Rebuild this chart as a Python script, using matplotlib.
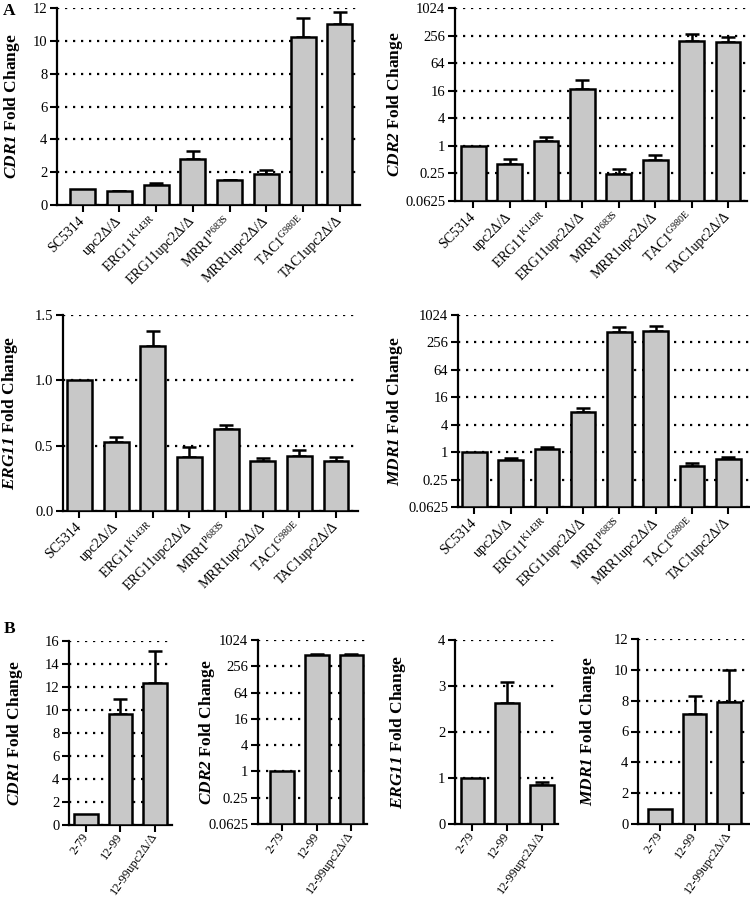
import numpy as np
import matplotlib
matplotlib.use("Agg")
import matplotlib.pyplot as plt

plt.rcParams['font.family'] = ['Liberation Serif', 'DejaVu Serif']
plt.rcParams['mathtext.fontset'] = 'custom'
# gene names in the y labels are bold italic (digits too), superscripts plain
plt.rcParams['mathtext.rm'] = 'Liberation Serif:italic:bold'
plt.rcParams['mathtext.it'] = 'Liberation Serif:italic:bold'
plt.rcParams['mathtext.sf'] = 'Liberation Serif'

# ---- data ----
strains_a = ["SC5314", "upc2Δ/Δ", r"ERG11$^{\mathsf{K143R}}$", "ERG11upc2Δ/Δ",
             r"MRR1$^{\mathsf{P683S}}$", "MRR1upc2Δ/Δ", r"TAC1$^{\mathsf{G980E}}$",
             "TAC1upc2Δ/Δ"]
strains_b = ["2-79", "12-99", "12-99upc2Δ/Δ"]

cdr1_a = [1.0, 0.83, 1.22, 2.78, 1.50, 1.90, 10.24, 11.02]
cdr1_a_top = [1.0, 0.87, 1.35, 3.30, 1.55, 2.16, 11.42, 11.78]
cdr2_a = [1.0, 0.40, 1.27, 17.5, 0.24, 0.48, 198, 186]
cdr2_a_top = [1.0, 0.51, 1.60, 27.0, 0.31, 0.63, 273, 235]
erg11_a = [1.0, 0.525, 1.265, 0.413, 0.625, 0.380, 0.423, 0.380]
erg11_a_top = [1.0, 0.569, 1.380, 0.487, 0.660, 0.406, 0.467, 0.410]
mdr1_a = [1.0, 0.66, 1.16, 7.6, 427, 449, 0.50, 0.72]
mdr1_a_top = [1.0, 0.75, 1.33, 9.2, 560, 588, 0.58, 0.80]

cdr1_b = [1.0, 9.63, 12.32]
cdr1_b_top = [1.0, 10.92, 15.13]
cdr2_b = [1.0, 457, 473]
cdr2_b_top = [1.0, 481, 485]
erg11_b = [1.0, 2.62, 0.84]
erg11_b_top = [1.0, 3.09, 0.91]
mdr1_b = [1.0, 7.15, 7.93]
mdr1_b_top = [1.0, 8.30, 9.98]

log_ticks = [0.0625, 0.25, 1, 4, 16, 64, 256, 1024]
log_labels = ["0.0625", "0.25", "1", "4", "16", "64", "256", "1024"]

W, H = 750, 901
fig = plt.figure(figsize=(W / 100, H / 100), dpi=100)


def make_axes(l, t, r, b):
    return fig.add_axes([l / W, 1 - b / H, (r - l) / W, (b - t) / H])


def panel(box, names, vals, tops, gene, yticks, ylim, xlim, labx,
          log=False, ticklabels=None, rot=45, xsize=10, xpad=5):
    ax = make_axes(*box)
    x = np.arange(len(vals))
    vals = np.array(vals, dtype=float)
    tops = np.array(tops, dtype=float)
    if log:
        ax.set_yscale('log', base=2)
        base = ylim[0]
        ax.bar(x, vals - base, bottom=base, width=0.68, color='#c8c8c8',
               edgecolor='black', linewidth=1.8, zorder=3)
    else:
        ax.bar(x, vals, width=0.68, color='#c8c8c8', edgecolor='black',
               linewidth=1.8, zorder=3)
    err = tops - vals
    m = err > 0
    ax.errorbar(x[m], vals[m], yerr=[np.zeros(m.sum()), err[m]], fmt='none',
                ecolor='black', elinewidth=1.8, capsize=5, capthick=1.8,
                zorder=2)
    ax.set_ylim(*ylim)
    ax.set_xlim(*xlim)
    ax.set_yticks(yticks)
    if ticklabels is not None:
        ax.set_yticklabels(ticklabels)
    ax.minorticks_off()
    ax.set_xticks(x)
    ax.set_xticklabels(names, rotation=rot, ha='right', va='center',
                       rotation_mode='anchor', fontsize=xsize)
    ax.yaxis.grid(True, color='black', linestyle=(0, (1, 2.6)), linewidth=1.6)
    ax.set_axisbelow(True)
    for s in ['top', 'right']:
        ax.spines[s].set_visible(False)
    for s in ['left', 'bottom']:
        ax.spines[s].set_linewidth(1.6)
    ax.tick_params(direction='out', length=5, width=1.5, pad=2)
    ax.tick_params(axis='x', pad=xpad)
    ax.tick_params(axis='y', labelsize=10.5)
    ax.set_ylabel(r"$\mathit{%s}$ Fold Change" % gene, fontsize=12.5,
                  fontweight='bold')
    ax.yaxis.set_label_coords(labx, 0.5)
    return ax


panel((57, 8, 360, 205), strains_a, cdr1_a, cdr1_a_top, "CDR1",
      [0, 2, 4, 6, 8, 10, 12], (0, 12), (-0.7, 7.55), -0.116)
panel((455, 8, 747, 201), strains_a, cdr2_a, cdr2_a_top, "CDR2",
      log_ticks, (0.0625, 1024), (-0.5, 7.52), -0.171, log=True,
      ticklabels=log_labels)
panel((63, 315, 358, 511), strains_a, erg11_a, erg11_a_top, "ERG11",
      [0.0, 0.5, 1.0, 1.5], (0, 1.5), (-0.45, 7.6), -0.146,
      ticklabels=["0.0", "0.5", "1.0", "1.5"])
panel((458, 315, 750, 507), strains_a, mdr1_a, mdr1_a_top, "MDR1",
      log_ticks, (0.0625, 1024), (-0.45, 7.6), -0.182, log=True,
      ticklabels=log_labels)

panel((69, 641, 172, 825), strains_b, cdr1_b, cdr1_b_top, "CDR1",
      [0, 2, 4, 6, 8, 10, 12, 14, 16], (0, 16), (-0.5, 2.5), -0.427,
      rot=55, xsize=9, xpad=1.5)
panel((258, 640, 367, 824), strains_b, cdr2_b, cdr2_b_top, "CDR2",
      log_ticks, (0.0625, 1024), (-0.7, 2.45), -0.376, log=True,
      ticklabels=log_labels, rot=55, xsize=9, xpad=1.5)
panel((455, 640, 558, 824), strains_b, erg11_b, erg11_b_top, "ERG11",
      [0, 1, 2, 3, 4], (0, 4), (-0.5, 2.46), -0.456, rot=55, xsize=9,
      xpad=1.5)
panel((638, 639, 750, 824), strains_b, mdr1_b, mdr1_b_top, "MDR1",
      [0, 2, 4, 6, 8, 10, 12], (0, 12), (-0.63, 2.6), -0.357, rot=55,
      xsize=9, xpad=1.5)

fig.text(3 / W, 1 - 3 / H, "A", fontsize=12.5, fontweight='bold', va='top')
fig.text(4 / W, 1 - 621 / H, "B", fontsize=12.5, fontweight='bold', va='top')

fig.savefig("out.png", dpi=100)
